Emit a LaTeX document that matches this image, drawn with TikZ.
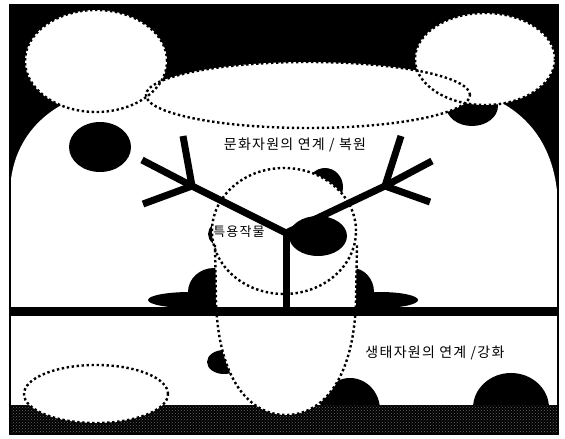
\documentclass[tikz,border=0pt]{standalone}
\usepackage{fontspec}
\newfontfamily\kr[LetterSpace=9]{Noto Sans CJK KR}
\usetikzlibrary{patterns}
\begin{document}
\begin{tikzpicture}[x=1pt,y=-1pt,
  blob/.style={fill=black},
  zone/.style={fill=white},
  zoneline/.style={draw=black,line width=2.4pt,dash pattern=on 2.4pt off 2.6pt},
  branch/.style={draw=black,line width=7pt,line cap=butt,line join=round},
  label/.style={font=\kr\fontsize{14}{16}\selectfont,text=black,inner sep=0pt},
  smalllabel/.style={font=\kr\fontsize{13}{15}\selectfont,text=black,inner sep=0pt}]
\useasboundingbox (0,0) rectangle (565,439);
\fill[white] (0,0) rectangle (565,439);

\begin{scope}
\clip (10,5) rectangle (558,434);
% night sky and hill
\fill[black] (10,5) rectangle (558,434);
\fill[white] (10,195) .. controls (10,140) and (45,100) .. (110,88)
  -- (460,88) .. controls (520,100) and (558,140) .. (558,210)
  -- (558,434) -- (10,434) -- cycle;

% dark masses lying behind the zones
\fill[blob] (100,147) ellipse [x radius=31pt,y radius=25pt];
\fill[blob] (472,106) ellipse [x radius=26pt,y radius=20pt];
\fill[blob] (325,187) ellipse [x radius=18pt,y radius=19pt];
\fill[blob] (224,234) ellipse [x radius=16pt,y radius=13pt];
\fill[blob] (190,300) ellipse [x radius=42pt,y radius=8pt];
\fill[blob] (214,292) ellipse [x radius=26pt,y radius=24pt];
\fill[blob] (380,300) ellipse [x radius=38pt,y radius=8pt];
\fill[blob] (352,292) ellipse [x radius=22pt,y radius=24pt];
\fill[blob] (224,362) ellipse [x radius=17pt,y radius=12pt];
\fill[blob] (350,410) ellipse [x radius=30pt,y radius=32pt];
\fill[blob] (511,408) ellipse [x radius=38pt,y radius=35pt];

% textured ground strip
\fill[black] (10,405) rectangle (558,434);
\fill[pattern=crosshatch dots,pattern color=white!40!black] (10,405) rectangle (558,434);

% zones
\path[zone] (96,61) ellipse [x radius=71pt,y radius=51pt];
\path[zone] (485,59) ellipse [x radius=70pt,y radius=46pt];
\path[zone] (308,95) ellipse [x radius=162pt,y radius=33pt];
\path[zone] (284,231) ellipse [x radius=72pt,y radius=63pt];
\path[zone] (215,240) -- (216,300) .. controls (218,380) and (250,415) .. (286,415)
  .. controls (322,415) and (354,380) .. (356,300) -- (357,240) -- cycle;
\path[zone] (96,394) ellipse [x radius=72pt,y radius=29pt];

\draw[zoneline] (96,61) ellipse [x radius=71pt,y radius=51pt];
\draw[zoneline] (485,59) ellipse [x radius=70pt,y radius=46pt];
\draw[zoneline] (308,95) ellipse [x radius=162pt,y radius=33pt];
\draw[zoneline] (284,231) ellipse [x radius=72pt,y radius=63pt];
\draw[zoneline] (215,245) -- (216,300) .. controls (218,380) and (250,415) .. (286,415)
  .. controls (322,415) and (354,380) .. (356,300) -- (357,245);
\draw[zoneline] (96,394) ellipse [x radius=72pt,y radius=29pt];

% dark mass in front of the central zone
\fill[blob] (318,236) ellipse [x radius=29pt,y radius=20pt];
\end{scope}

% ground line and frame
\fill[black] (10,307) rectangle (558,316);
\draw[black,line width=2pt] (10,5) rectangle (558,434);

% the tree
\coordinate (root) at (286,312);
\coordinate (fork) at (286,233);
\coordinate (lfork) at (192,186);
\coordinate (rfork) at (385,186);
\coordinate (ltop) at (183,136);
\coordinate (lup) at (142,160);
\coordinate (ldown) at (143,204);
\coordinate (rtop) at (401,136);
\coordinate (rup) at (432,161);
\coordinate (rdown) at (430,202);
\draw[branch] (root) -- (fork);
\draw[branch] (fork) -- (lfork);
\draw[branch] (fork) -- (rfork);
\draw[branch] (lfork) -- (ltop);
\draw[branch] (lfork) -- (lup);
\draw[branch] (lfork) -- (ldown);
\draw[branch] (rfork) -- (rtop);
\draw[branch] (rfork) -- (rup);
\draw[branch] (rfork) -- (rdown);

% labels
\node[label] (culture) at (295,145) {문화자원의 연계 / 복원};
\node[smalllabel] (crops) at (239,232) {특용작물};
\node[label] (ecology) at (435,353) {생태자원의 연계 /강화};
\end{tikzpicture}
\end{document}
